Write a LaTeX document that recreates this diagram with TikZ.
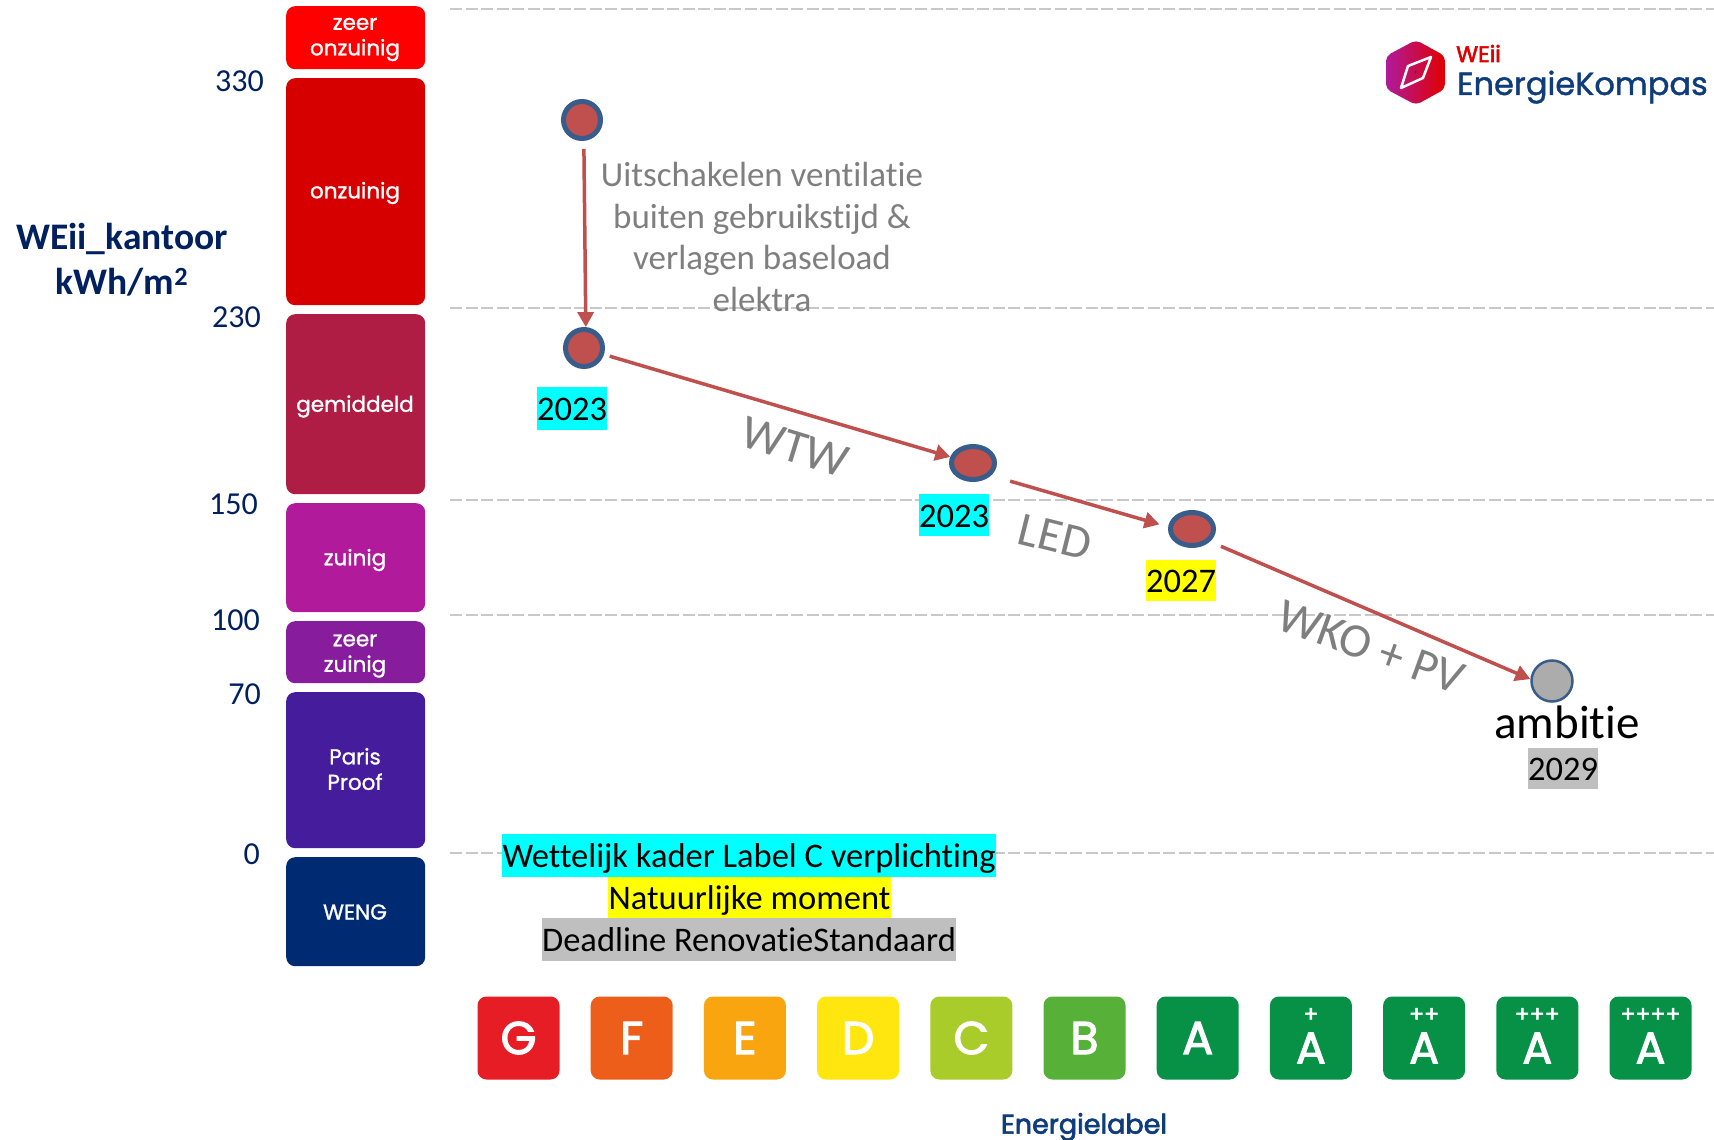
\documentclass[tikz,border=0pt]{standalone}
\usepackage{fontspec}
\setmainfont[RawFeature={-liga;-clig}]{Carlito}
\newfontfamily\lblfont[FakeBold=1.2]{Poppins}
\newfontfamily\letfont[FakeBold=2.5]{Poppins}
\usetikzlibrary{arrows.meta,shapes.geometric}
\definecolor{navy}{HTML}{002060}
\definecolor{logoblue}{HTML}{0F3D7C}
\definecolor{arrowred}{HTML}{C0504D}
\definecolor{ringblue}{HTML}{385D8A}
\definecolor{gridc}{HTML}{C8C8C8}
\definecolor{hlgray}{HTML}{BFBFBF}
\definecolor{hlcyan}{HTML}{00FFFF}
\definecolor{hlyellow}{HTML}{FFFF00}
\definecolor{txtgray}{HTML}{7F7F7F}
\definecolor{lgreen}{HTML}{069147}
\definecolor{bA}{HTML}{FF0000}
\definecolor{bB}{HTML}{D60000}
\definecolor{bC}{HTML}{AF1D45}
\definecolor{bD}{HTML}{B01A9B}
\definecolor{bE}{HTML}{871C9C}
\definecolor{bF}{HTML}{441C9C}
\definecolor{bG}{HTML}{002B73}
\definecolor{lG}{HTML}{E71D25}
\definecolor{lF}{HTML}{EE5E1B}
\definecolor{lE}{HTML}{F8A50F}
\definecolor{lD}{HTML}{FFE60F}
\definecolor{lC}{HTML}{A9CC2B}
\definecolor{lB}{HTML}{57B038}
\definecolor{HexL}{HTML}{B01A9B}
\definecolor{HexR}{HTML}{E00000}
\tikzset{
 x=1pt,y=-1pt,
 gridline/.style={gridc,line width=1.6pt,dash pattern=on 12pt off 3.5pt},
 bar/.style={rounded corners=9pt,anchor=north west,inner sep=0pt,minimum width=139pt},
 bartext/.style={inner sep=0pt,text=white,font=\lblfont\fontsize{21.5}{25.5}\selectfont,align=center},
 scaleno/.style={anchor=east,text=navy,font=\fontsize{32}{34}\selectfont,inner sep=0pt},
 lab/.style={rounded corners=9pt,minimum width=82pt,minimum height=83pt,inner sep=0pt,text=white,font=\letfont\fontsize{46}{46}\selectfont},
 plusmark/.style={inner sep=0pt,text=white,font=\letfont\fontsize{22}{22}\selectfont},
 dot/.style={circle,draw=ringblue,fill=arrowred,line width=5pt,minimum size=37pt,inner sep=0pt},
 oval/.style={ellipse,draw=ringblue,fill=arrowred,line width=5pt,minimum width=43pt,minimum height=33pt,inner sep=0pt},
 conn/.style={arrowred,line width=3.5pt,-{Triangle[length=15pt,width=16pt]}},
 hl/.style={inner sep=0pt,text=black,font=\fontsize{34.5}{34.5}\selectfont,text height=32pt,text depth=8pt},
 grayt/.style={text=txtgray,inner sep=0pt},
}
\begin{document}
\begin{tikzpicture}
\useasboundingbox (0,0) rectangle (1714,1140);
\fill[white] (0,0) rectangle (1714,1140);
% grid
\foreach \yy in {9,308,500,615,853} \draw[gridline] (450,\yy) -- (1714,\yy);
% bars
\node[bar,fill=bA,minimum height=63pt] (b1) at (286,6) {};
\node[bar,fill=bB,minimum height=227pt] (b2) at (286,78) {};
\node[bar,fill=bC,minimum height=180pt] (b3) at (286,314) {};
\node[bar,fill=bD,minimum height=109pt] (b4) at (286,503) {};
\node[bar,fill=bE,minimum height=62pt] (b5) at (286,621) {};
\node[bar,fill=bF,minimum height=156pt] (b6) at (286,692) {};
\node[bar,fill=bG,minimum height=109pt] (b7) at (286,857) {};
\node[bartext] (tb1) at (355,39.5) {zeer\\onzuinig};
\node[bartext] (tb2) at (355,193) {onzuinig};
\node[bartext] (tb3) at (355,406.5) {gemiddeld};
\node[bartext] (tb4) at (355,560) {zuinig};
\node[bartext] (tb5) at (355,656) {zeer\\zuinig};
\node[bartext] (tb6) at (355,769) {Paris\\Proof};
\node[bartext] (tb7) at (355,912) {WENG};
% scale
\node[scaleno] (s330) at (264,81) {330};
\node[scaleno] (s230) at (261,317) {230};
\node[scaleno] (s150) at (258,504) {150};
\node[scaleno] (s100) at (260,620) {100};
\node[scaleno] (s70) at (261,694) {70};
\node[scaleno] (s0) at (260,854) {0};
\node[text=navy,font=\bfseries\fontsize{37.5}{45}\selectfont,align=center,inner sep=0pt] (ylab) at (122,259.5) {WEii\_kantoor\\kWh/m\textsuperscript{2}};
% label squares
\foreach \nm/\cc/\tt [count=\i from 0] in {G/lG/G,F/lF/F,E/lE/E,D/lD/D,C/lC/C,B/lB/B,A/lgreen/A}
  \node[lab,fill=\cc] (l\nm) at ({518.5+113.2*\i},1038) {\tt};
\foreach \nm/\pp [count=\i from 7] in {a/+,b/++,c/+++,d/++++} {
  \node[lab,fill=lgreen] (l\nm) at ({518.5+113.2*\i},1038) {};
  \node[plusmark] (p\nm) at ({518.5+113.2*\i},1015) {\pp};
  \node[lab,minimum width=0pt,minimum height=0pt,font=\letfont\fontsize{44}{44}\selectfont] (a\nm) at ({518.5+113.2*\i},1048) {A};
}
\node[text=logoblue,font=\letfont\fontsize{27}{27}\selectfont,inner sep=0pt] (elab) at (1084,1127) {Energielabel};
% connectors' nodes
\node[dot] (n1) at (582,120) {};
\node[dot] (n2) at (584,348) {};
\node[oval] (n3) at (973,463) {};
\node[oval] (n4) at (1192,529) {};
\node[circle,draw=ringblue,fill=hlgray!90!black,line width=2.5pt,minimum size=41pt,inner sep=0pt] (n5) at (1552,681) {};
\draw[conn,shorten <=8pt] (n1.-85) -- (n2.85);
\draw[conn,shorten <=6pt] (n2.-18) -- (n3.165);
\draw[conn,shorten <=20pt,shorten >=9pt] (n3.-35) -- (n4.175);
\draw[conn,shorten <=12pt] (n4.-35) -- (n5.175);
% text labels
\node[grayt,align=center,font=\fontsize{35}{41.5}\selectfont] (t1) at (762,237) {Uitschakelen ventilatie\\buiten gebruikstijd \&\\verlagen baseload\\elektra};
\node[grayt,rotate=-17,font=\fontsize{48}{48}\selectfont] (t2) at (795,447) {WTW};
\node[grayt,rotate=-14,font=\fontsize{48}{48}\selectfont] (t3) at (1055,537) {LED};
\node[grayt,rotate=-20,font=\fontsize{48}{48}\selectfont] (t4) at (1371,647) {WKO + PV};
% years
\node[fill=hlcyan,minimum width=70pt,minimum height=43pt,hl] (y1) at (572,408) {2023};
\node[fill=hlcyan,minimum width=70pt,minimum height=42pt,hl] (y2) at (954,515) {2023};
\node[fill=hlyellow,minimum width=70pt,minimum height=41pt,hl] (y3) at (1181,580) {2027};
\node[fill=hlgray,minimum width=70pt,minimum height=41pt,hl] (y4) at (1563,768) {2029};
\node[inner sep=0pt,font=\fontsize{47}{47}\selectfont] (amb) at (1567,722) {ambitie};
% legend
\node[fill=hlcyan,minimum width=494pt,minimum height=43pt,hl] (k1) at (749,855.5) {Wettelijk kader Label C verplichting};
\node[fill=hlyellow,minimum width=283pt,minimum height=41pt,hl] (k2) at (749.5,897.5) {Natuurlijke moment};
\node[fill=hlgray,minimum width=414pt,minimum height=43pt,hl] (k3) at (749,939.5) {Deadline RenovatieStandaard};
% logo
\shade[left color=HexL,right color=HexR,rounded corners=5pt] (1416,40) -- (1445,56) -- (1445,89) -- (1416,105) -- (1386,89) -- (1386,56) -- cycle;
\draw[white,line width=2.5pt,line join=round] (1401,88) -- (1408,66) -- (1431,57) -- (1423,78) -- cycle;
\fill[logoblue] (1415.5,72) circle (1.2pt);
\node[anchor=base west,inner sep=0pt,text=HexR,font=\letfont\fontsize{22.5}{22.5}\selectfont] (w) at (1456,62) {WEii};
\node[anchor=base west,inner sep=0pt,text=logoblue,font=\lblfont\fontsize{32}{32}\selectfont] (ek) at (1457,95) {EnergieKompas};
\end{tikzpicture}
\end{document}
